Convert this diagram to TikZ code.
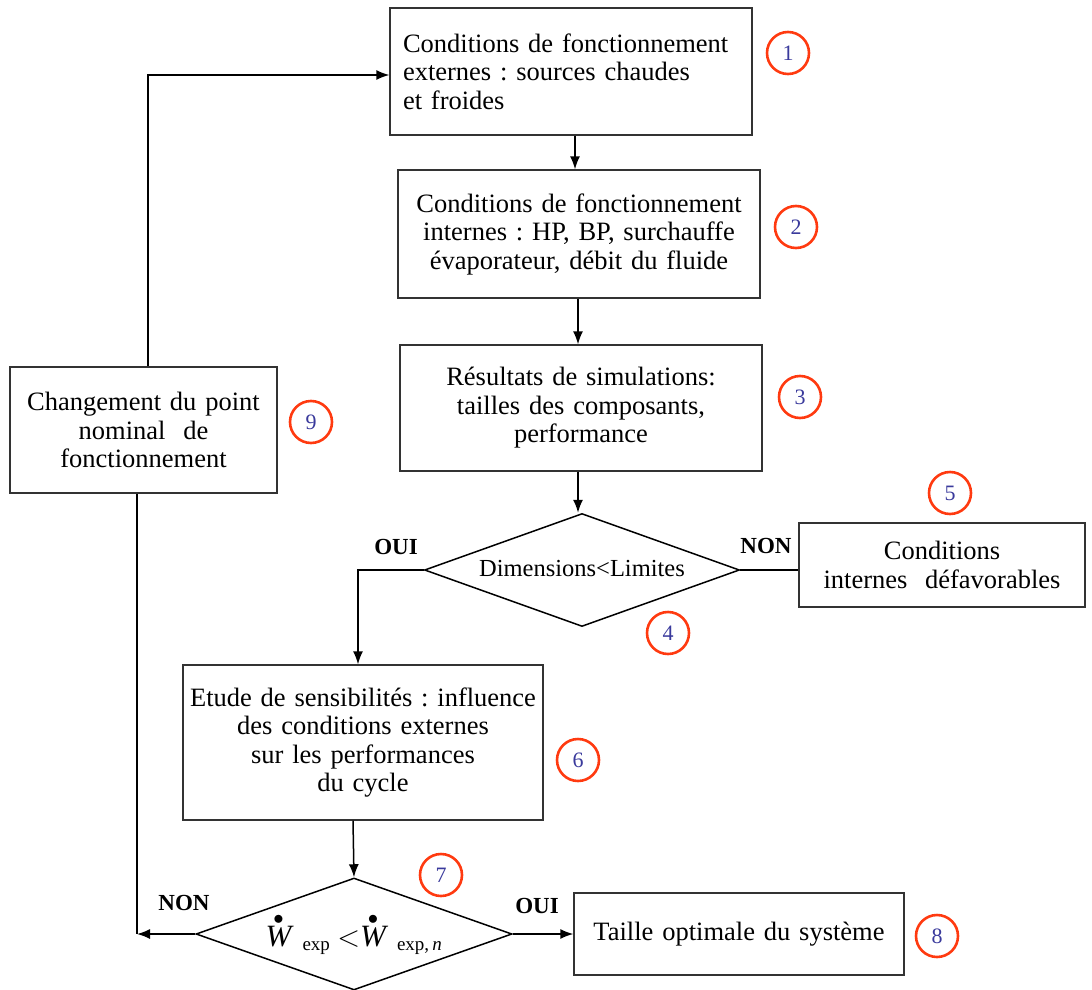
\documentclass[tikz,border=0pt]{standalone}
\usepackage{fontspec}
\setmainfont{Liberation Serif}
\usetikzlibrary{shapes.geometric,arrows.meta}
\definecolor{ringred}{HTML}{FF3A10}
\definecolor{numblue}{HTML}{3A3A9C}
\definecolor{boxgray}{HTML}{333333}
\newcommand{\dotW}{\stackrel{\bullet}{\textit{W}}}
\frenchspacing
\begin{document}
\begin{tikzpicture}[x=1pt,y=-1pt,
  font=\fontsize{26.5}{28.5}\selectfont,
  stepbox/.style={draw=boxgray,line width=1.3pt,align=center,inner sep=0pt},
  decision/.style={draw=black,line width=1.5pt,shape=diamond,shape aspect=2.8,inner sep=0pt},
  tag/.style={draw=ringred,line width=2.6pt,circle,minimum size=42pt,inner sep=0pt,
    text=numblue,font=\fontsize{22}{24}\selectfont},
  answer/.style={font=\fontsize{23}{24}\selectfont\bfseries},
  flow/.style={line width=1.5pt,-{Latex[length=13pt,width=10pt]}},
  wire/.style={line width=1.5pt}]
\useasboundingbox (0,0) rectangle (1092,990);

% process boxes
\node[stepbox,minimum width=362pt,minimum height=127pt,text width=336pt,align=left]
  (b1) at (571,71.5) {Conditions de fonctionnement\\externes : sources chaudes\\et froides};
\node[stepbox,minimum width=362pt,minimum height=128pt,text width=350pt]
  (b2) at (579,234) {Conditions de fonctionnement\\internes : HP, BP, surchauffe\\évaporateur, débit du fluide};
\node[stepbox,minimum width=362pt,minimum height=126pt,text width=350pt]
  (b3) at (581,408) {Résultats de simulations:\\tailles des composants,\\performance};
\node[stepbox,minimum width=286pt,minimum height=84pt,text width=280pt]
  (b5) at (942,565) {Conditions\\internes\ \ défavorables};
\node[stepbox,minimum width=360pt,minimum height=155pt,text width=358pt]
  (b6) at (363,742.5) {Etude de sensibilités : influence\\des conditions externes\\sur les performances\\du cycle};
\node[stepbox,minimum width=330pt,minimum height=82pt,text width=320pt]
  (b8) at (739,934) {Taille optimale du système};
\node[stepbox,minimum width=267pt,minimum height=126pt,text width=262pt]
  (b9) at (143.5,430) {Changement du point\\nominal\ \ de\\fonctionnement};

% decisions
\node[decision,minimum width=315pt,minimum height=113pt]
  (d4) at (582,570) {\raisebox{3pt}{\fontsize{24.5}{26}\selectfont Dimensions<Limites}};
\node[decision,minimum width=316pt,minimum height=112pt]
  (d7) at (354,934) {\fontsize{31}{32}\selectfont
  $\dotW\,{}_{\textrm{\fontsize{19}{20}\selectfont exp}} \mathrel{\scalebox{1.2}{$<$}} \dotW\,{}_{\textrm{\fontsize{19}{20}\selectfont exp,\,\textit{n}}}$};

% numbered tags
\node[tag] (t1) at (788,53) {1};
\node[tag] (t2) at (796,227) {2};
\node[tag] (t3) at (800,397) {3};
\node[tag] (t4) at (668,633) {4};
\node[tag] (t5) at (950,493) {5};
\node[tag] (t6) at (578,760) {6};
\node[tag] (t7) at (441,875) {7};
\node[tag] (t8) at (937,936) {8};
\node[tag] (t9) at (311,422) {9};

% branch labels
\node[answer] (oui4) at (396,547) {OUI};
\node[answer] (non4) at (766,546) {NON};
\node[answer] (oui7) at (537,906) {OUI};
\node[answer] (non7) at (184,903) {NON};

% connectors
\coordinate (c9top) at (148,75);
\coordinate (c4left) at (358,570);
\coordinate (c7left) at (137,934);

\draw[flow] (b1.south -| 575,0) -- (b2.north -| 575,0);
\draw[flow] (b2.south -| 578,0) -- (b3.north -| 578,0);
\draw[flow] (b3.south -| 578,0) -- (d4.north -| 578,0);
\draw[wire] (d4.east) -- (d4.east -| b5.west);
\draw[flow] (d4.west) -- (c4left) -- (b6.north -| c4left);
\draw[flow] (b6.south -| 353,0) -- (d7.north);
\draw[flow] (d7.east) -- (b8.west);
\draw[flow] (d7.west) -- (c7left);
\draw[wire] (b9.south -| c7left) -- (c7left);
\draw[flow] (b9.north -| c9top) -- (c9top) -- (b1.west |- c9top);
\end{tikzpicture}
\end{document}
